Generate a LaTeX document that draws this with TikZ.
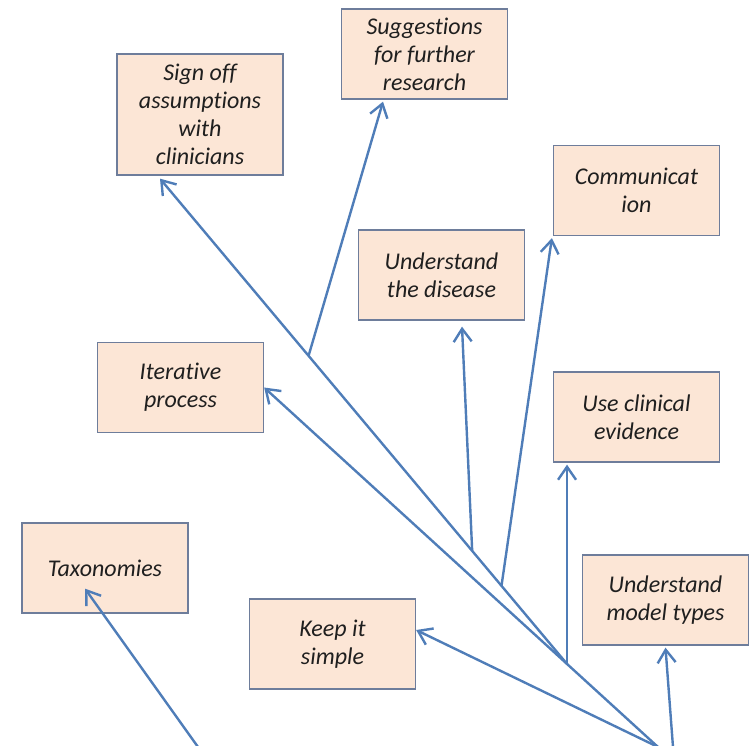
\documentclass[tikz,border=0pt]{standalone}
\usepackage{fontspec}
\setmainfont{Carlito}[Ligatures=NoCommon]
\usetikzlibrary{arrows.meta,calc}
\definecolor{linec}{HTML}{4F7DB8}
\definecolor{boxfill}{HTML}{FCE6D6}
\definecolor{boxline}{RGB}{110,125,155}
\begin{document}
\begin{tikzpicture}[x=1pt,y=-1pt,
  box/.style={draw=boxline, line width=1.3pt, fill=boxfill, minimum width=166pt,
    minimum height=90pt, align=center, inner sep=0pt,
    font=\fontsize{24}{28}\selectfont\itshape, text=black!88},
  conn/.style={draw=linec, line width=2.4pt,
    -{Straight Barb[length=13pt,width=18pt,line width=2.4pt]}}]
\useasboundingbox (0,0) rectangle (749,745);
% boxes
\node[box] (suggest) at (424.5,54) {Suggestions\\for further\\research};
\node[box, minimum height=121pt] (signoff) at (200,114.5) {Sign off\\assumptions\\with\\clinicians};
\node[box] (comm) at (636.5,190.5) {Communicat\\ion};
\node[box] (disease) at (441.5,275) {Understand\\the disease};
\node[box] (iter) at (180.5,387.5) {Iterative\\process};
\node[box] (clin) at (636.5,417) {Use clinical\\evidence};
\node[box] (tax) at (105,568) {Taxonomies};
\node[box] (keep) at (332.5,644) {Keep it\\simple};
\node[box] (model) at (665.5,600) {Understand\\model types};
% roots and junctions
\coordinate (root) at (658,747);
\coordinate (rootm) at (673,747);
\coordinate (roott) at (198,747);
\coordinate (j1) at ($(root)!0.231!(iter.east)$);
\coordinate (sotip) at ([xshift=-40pt,yshift=-3pt]signoff.south);
\coordinate (clintip) at ([xshift=-69pt,yshift=-2pt]clin.south);
\coordinate (j2) at ($(j1)!0.233!(sotip)$);
\coordinate (j3) at ($(j1)!0.161!(sotip)$);
\coordinate (j4) at ($(j1)!0.635!(sotip)$);
% connectors
\draw[conn] (root) -- ([yshift=14pt]keep.east);
\draw[conn] (root) -- (iter.east);
\draw[conn] (rootm) -- ([yshift=-2pt]model.south);
\draw[conn] (roott) -- ([xshift=-20pt,yshift=25pt]tax.south);
\draw[conn] (j1) -- (j1 |- clintip);
\draw[conn] (j1) -- (sotip);
\draw[conn] (j2) -- ([xshift=20.5pt,yshift=-6pt]disease.south);
\draw[conn] (j3) -- ([xshift=-1pt,yshift=-2pt]comm.south west);
\draw[conn] (j4) -- ([xshift=-41.5pt,yshift=-2pt]suggest.south);
\end{tikzpicture}
\end{document}
